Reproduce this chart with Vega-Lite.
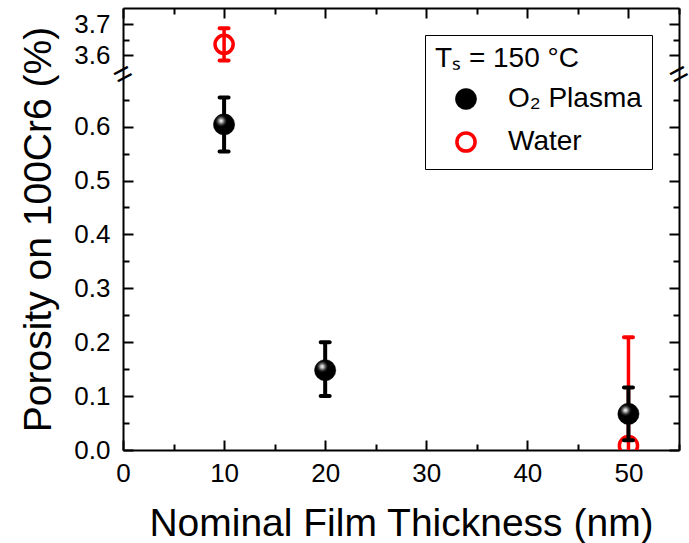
{
  "$schema": "https://vega.github.io/schema/vega-lite/v6.json",
  "width": 556,
  "height": 442,
  "autosize": {"type": "none"},
  "padding": {"left": 123, "top": 8, "right": 10, "bottom": 93},
  "background": "white",
  "config": {
    "font": "Liberation Sans",
    "view": {"stroke": null},
    "axis": {
      "domainColor": "black", "domainWidth": 2,
      "tickColor": "black", "tickWidth": 2,
      "labelColor": "black", "labelFontSize": 26, "labelFont": "Liberation Sans",
      "titleColor": "black", "titleFontSize": 39, "titleFontWeight": "normal", "titleFont": "Liberation Sans",
      "grid": false, "labelFlush": false, "labelOverlap": false
    }
  },
  "data": {
    "values": [
      {"series": "O₂ Plasma", "thickness": 10, "porosity": 0.604, "lo": 0.554, "hi": 0.654},
      {"series": "O₂ Plasma", "thickness": 20, "porosity": 0.148, "lo": 0.100, "hi": 0.200},
      {"series": "O₂ Plasma", "thickness": 50, "porosity": 0.067, "lo": 0.018, "hi": 0.116},
      {"series": "Water", "thickness": 10, "porosity": 3.636, "lo": 3.584, "hi": 3.688},
      {"series": "Water", "thickness": 50, "porosity": 0.008, "lo": -0.193, "hi": 0.209}
    ]
  },
  "layer": [
    {
      "transform": [{"filter": "datum.series === 'Water'"}],
      "mark": {"type": "rule", "color": "#ff0000", "strokeWidth": 3.5, "clip": true},
      "encoding": {
        "x": {
          "field": "thickness", "type": "quantitative",
          "scale": {"domain": [0, 55], "nice": false, "zero": false},
          "axis": {
            "orient": "bottom", "title": "Nominal Film Thickness (nm)",
            "values": [0, 5, 10, 15, 20, 25, 30, 35, 40, 45, 50, 55],
            "labelExpr": "datum.value % 10 === 0 ? format(datum.value, 'd') : ''",
            "tickSize": {"condition": {"test": "datum.value % 10 === 0", "value": -10}, "value": -6},
            "labelPadding": 20, "titlePadding": 14
          }
        },
        "y": {
          "field": "lo", "type": "quantitative",
          "scale": {"type": "linear", "domain": [0, 0.6967, 3.5387, 3.7532], "range": [442, 66.5, 66.5, 0], "nice": false, "zero": false},
          "axis": {
            "orient": "left", "title": "Porosity on 100Cr6 (%)",
            "values": [0, 0.05, 0.1, 0.15, 0.2, 0.25, 0.3, 0.35, 0.4, 0.45, 0.5, 0.55, 0.6, 0.65, 3.6, 3.65, 3.7],
            "labelExpr": "abs(datum.value * 10 - round(datum.value * 10)) < 0.01 ? format(datum.value, '.1f') : ''",
            "tickSize": {"condition": {"test": "abs(datum.value * 10 - round(datum.value * 10)) < 0.01", "value": -10}, "value": -6},
            "labelPadding": 23, "titlePadding": 15
          }
        },
        "y2": {"field": "hi"}
      }
    },
    {
      "transform": [{"filter": "datum.series === 'Water'"}, {"fold": ["lo", "hi"], "as": ["end", "val"]}],
      "mark": {"type": "tick", "orient": "horizontal", "color": "#ff0000", "size": 13, "thickness": 4, "cornerRadius": 2, "opacity": 1, "clip": true},
      "encoding": {
        "x": {
          "field": "thickness", "type": "quantitative",
          "axis": {
            "orient": "top", "title": null, "labels": false,
            "values": [0, 5, 10, 15, 20, 25, 30, 35, 40, 45, 50, 55],
            "tickSize": {"condition": {"test": "datum.value % 10 === 0", "value": -10}, "value": -6}
          }
        },
        "y": {
          "field": "val", "type": "quantitative",
          "axis": {
            "orient": "right", "title": null, "labels": false,
            "values": [0, 0.05, 0.1, 0.15, 0.2, 0.25, 0.3, 0.35, 0.4, 0.45, 0.5, 0.55, 0.6, 0.65, 3.6, 3.65, 3.7],
            "tickSize": {"condition": {"test": "abs(datum.value * 10 - round(datum.value * 10)) < 0.01", "value": -10}, "value": -6}
          }
        }
      }
    },
    {
      "transform": [{"filter": "datum.series === 'Water'"}],
      "mark": {"type": "point", "filled": true, "shape": "circle", "opacity": 1, "clip": true},
      "encoding": {
        "x": {"field": "thickness", "type": "quantitative", "axis": null},
        "y": {"field": "porosity", "type": "quantitative", "axis": null},
        "fill": {
          "field": "series", "type": "nominal",
          "scale": {"domain": ["O₂ Plasma", "Water"], "range": ["#000000", "transparent"]},
          "legend": {
            "title": "Tₛ = 150 °C", "orient": "top-right", "offset": 27, "padding": 10,
            "strokeColor": "black", "fillColor": "white",
            "titleFontSize": 28, "titleFontWeight": "normal", "titleColor": "black", "titleFont": "Liberation Sans", "titlePadding": 12,
            "labelFontSize": 28, "labelColor": "black", "labelFont": "Liberation Sans",
            "symbolType": "circle", "rowPadding": 12, "symbolOffset": 17, "labelOffset": 28, "symbolOpacity": 1,
            "encode": {"legend": {"strokeWidth": {"value": 1.5}}}
          }
        },
        "stroke": {
          "field": "series", "type": "nominal",
          "scale": {"domain": ["O₂ Plasma", "Water"], "range": ["#000000", "#ff0000"]}
        },
        "strokeWidth": {
          "field": "series", "type": "ordinal",
          "scale": {"type": "ordinal", "domain": ["O₂ Plasma", "Water"], "range": [0.5, 3.5]}
        },
        "size": {
          "field": "series", "type": "ordinal",
          "scale": {"type": "ordinal", "domain": ["O₂ Plasma", "Water"], "range": [450, 330]}
        }
      }
    },
    {
      "transform": [{"filter": "datum.series !== 'Water'"}],
      "mark": {"type": "rule", "color": "#000000", "strokeWidth": 4},
      "encoding": {
        "x": {"field": "thickness", "type": "quantitative", "axis": null},
        "y": {"field": "lo", "type": "quantitative", "axis": null},
        "y2": {"field": "hi"}
      }
    },
    {
      "transform": [{"filter": "datum.series !== 'Water'"}, {"fold": ["lo", "hi"], "as": ["end", "val"]}],
      "mark": {"type": "tick", "orient": "horizontal", "color": "#000000", "size": 13, "thickness": 4, "cornerRadius": 2, "opacity": 1},
      "encoding": {
        "x": {"field": "thickness", "type": "quantitative", "axis": null},
        "y": {"field": "val", "type": "quantitative", "axis": null}
      }
    },
    {
      "transform": [{"filter": "datum.series !== 'Water'"}],
      "mark": {"type": "point", "filled": true, "shape": "circle", "size": 450, "stroke": "#000000", "strokeWidth": 0.5, "opacity": 1,
        "fill": {"gradient": "radial", "x1": 0.36, "y1": 0.33, "r1": 0, "x2": 0.36, "y2": 0.33, "r2": 0.55,
          "stops": [{"offset": 0, "color": "#ffffff"}, {"offset": 0.08, "color": "#e0e0e0"}, {"offset": 0.2, "color": "#909090"}, {"offset": 0.35, "color": "#303030"}, {"offset": 0.5, "color": "#000000"}, {"offset": 1, "color": "#000000"}]}},
      "encoding": {
        "x": {"field": "thickness", "type": "quantitative", "axis": null},
        "y": {"field": "porosity", "type": "quantitative", "axis": null}
      }
    },
    {
      "data": {"values": [{"thickness": 0, "porosity": 0.6967, "glyph": "="}, {"thickness": 55, "porosity": 0.6967, "glyph": "="}]},
      "mark": {"type": "text", "fontSize": 32, "angle": -28, "align": "center", "baseline": "middle", "color": "black", "font": "Liberation Sans"},
      "encoding": {
        "x": {"field": "thickness", "type": "quantitative", "axis": null},
        "y": {"field": "porosity", "type": "quantitative", "axis": null},
        "text": {"field": "glyph"}
      }
    }
  ],
  "resolve": {"axis": {"x": "independent", "y": "independent"}}
}
